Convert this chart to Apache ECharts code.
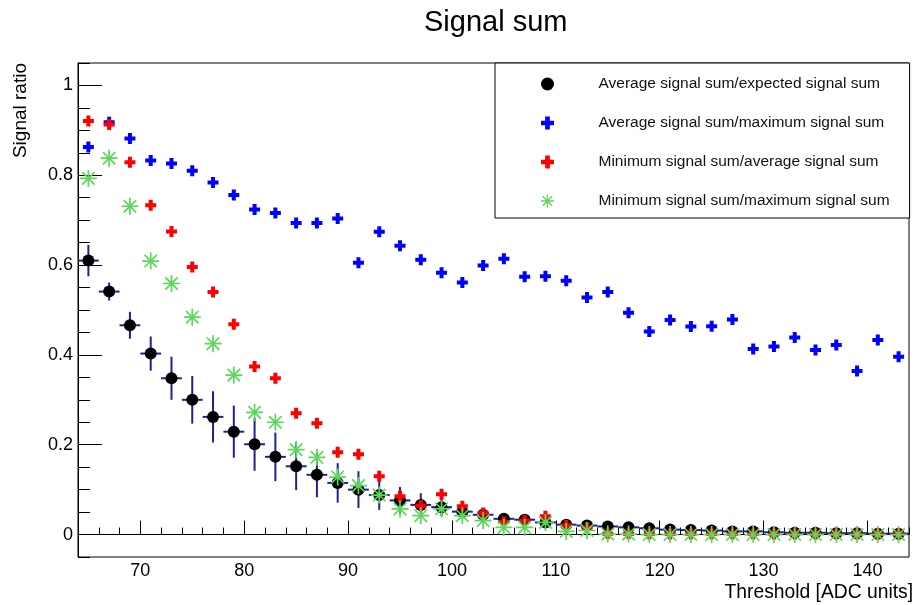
<!DOCTYPE html>
<html>
<head>
<meta charset="utf-8">
<title>Signal sum</title>
<script src="https://cdn.jsdelivr.net/npm/echarts@6/dist/echarts.min.js"></script>
<style>
    html, body { margin: 0; padding: 0; background: #fff; }
    #chart { width: 915px; height: 605px; }
</style>
</head>
<body>
<div id="chart"></div>
<script>
(function (window) {
    "use strict";

    // 阈值 (ADC units)
    var thresholds = [65, 67, 69, 71, 73, 75, 77, 79, 81, 83, 85, 87, 89, 91, 93, 95, 97, 99, 101, 103,
        105, 107, 109, 111, 113, 115, 117, 119, 121, 123, 125, 127, 129, 131, 133, 135, 137, 139, 141, 143];

    // Average signal sum/expected signal sum
    var avgExpected = [0.610, 0.541, 0.466, 0.403, 0.348, 0.300, 0.262, 0.229, 0.201, 0.173,
        0.152, 0.133, 0.115, 0.100, 0.088, 0.076, 0.066, 0.061, 0.051, 0.044,
        0.035, 0.033, 0.027, 0.022, 0.020, 0.018, 0.016, 0.014, 0.011, 0.010,
        0.009, 0.007, 0.007, 0.005, 0.004, 0.004, 0.003, 0.003, 0.002, 0.002];
    var avgExpectedErr = [0.035, 0.020, 0.030, 0.038, 0.048, 0.053, 0.057, 0.058, 0.059, 0.054,
        0.053, 0.050, 0.044, 0.041, 0.033, 0.030, 0.026, 0.020, 0.015, 0.012,
        0.012, 0.009, 0.007, 0.006, 0.005, 0.004, 0.004, 0.003, 0.003, 0.002,
        0.002, 0.002, 0.002, 0.001, 0.001, 0.001, 0.001, 0.001, 0.001, 0.001];

    // Average signal sum/maximum signal sum
    var avgMax = [0.863, 0.918, 0.882, 0.833, 0.826, 0.810, 0.784, 0.756, 0.724, 0.716,
        0.694, 0.694, 0.704, 0.605, 0.674, 0.643, 0.612, 0.583, 0.561, 0.599,
        0.614, 0.574, 0.575, 0.565, 0.528, 0.540, 0.494, 0.452, 0.478, 0.463,
        0.464, 0.479, 0.413, 0.419, 0.439, 0.411, 0.422, 0.364, 0.433, 0.396];

    // Minimum signal sum/average signal sum
    var minAvg = [0.921, 0.913, 0.829, 0.733, 0.675, 0.596, 0.540, 0.468, 0.374, 0.348,
        0.270, 0.248, 0.183, 0.179, 0.130, 0.085, 0.064, 0.090, 0.063, 0.048,
        0.028, 0.031, 0.041, 0.020, 0.015, 0.002, 0.002, 0.001, 0.001, 0.001,
        0.001, 0.001, 0.001, 0.001, 0.001, 0.001, 0.001, 0.001, 0.001, 0.001];

    // Minimum signal sum/maximum signal sum
    var minMax = [0.793, 0.838, 0.731, 0.609, 0.559, 0.484, 0.425, 0.355, 0.272, 0.250,
        0.189, 0.172, 0.128, 0.109, 0.088, 0.057, 0.042, 0.057, 0.042, 0.031,
        0.016, 0.016, 0.027, 0.007, 0.009, 0.001, 0.001, 0.000, 0.000, 0.000,
        0.000, 0.000, 0.000, 0.000, 0.000, 0.000, 0.000, 0.000, 0.000, 0.000];

    var xMajor = [70, 80, 90, 100, 110, 120, 130, 140];
    var yMajor = [0, 0.2, 0.4, 0.6, 0.8, 1];

    var names = [
        'Average signal sum/expected signal sum',
        'Average signal sum/maximum signal sum',
        'Minimum signal sum/average signal sum',
        'Minimum signal sum/maximum signal sum'
    ];

    var FONT = 'Liberation Sans';
    var plusPath = 'path://M3.5,0H7.5V3.5H11V7.5H7.5V11H3.5V7.5H0V3.5H3.5Z';
    var starPath = 'path://M0,45H100V55H0Z M45,0H55V100H45Z M10,17L17,10L90,83L83,90Z M83,10L90,17L17,90L10,83Z';
    var errColor = '#1f1f99';

    var pairs = function (ys) {
        return thresholds.map(function (x, i) { return [x, ys[i]]; });
    };

    var errData = thresholds.map(function (x, i) {
        return [x, avgExpected[i], avgExpectedErr[i]];
    });

    var chart = window.echarts.init(document.getElementById('chart'));

    var option = {
        animation: false,
        backgroundColor: '#fff',
        title: {
            text: 'Signal sum',
            left: 424,
            top: 8,
            padding: 0,
            textStyle: { fontFamily: FONT, fontSize: 29, fontWeight: 'normal', color: '#000' }
        },
        legend: {
            data: names,
            orient: 'vertical',
            left: 495,
            top: 63,
            padding: [13, 20, 9, 46],
            itemWidth: 92,
            itemHeight: 13,
            itemGap: 23,
            borderColor: '#000',
            borderWidth: 1,
            backgroundColor: '#fff',
            selectedMode: false,
            textStyle: { fontFamily: FONT, fontSize: 15.5, color: '#111', lineHeight: 14 }
        },
        grid: {
            left: 78, right: 6, top: 63, bottom: 48,
            outerBoundsMode: 'none',
            containLabel: false,
            show: true, borderColor: '#000', borderWidth: 1, backgroundColor: '#fff'
        },
        xAxis: [
            {
                type: 'value', min: 64, max: 144,
                name: 'Threshold [ADC units]',
                nameLocation: 'middle',
                nameGap: 26,
                nameMoveOverlap: false,
                nameTextStyle: {
                    fontFamily: FONT, fontSize: 19.3, color: '#000',
                    align: 'left', verticalAlign: 'top', padding: [0, 0, 0, 231]
                },
                axisLine: { show: true, lineStyle: { color: '#000', width: 1 } },
                axisTick: { show: true, inside: true, length: 14, customValues: xMajor, lineStyle: { color: '#000' } },
                axisLabel: { customValues: xMajor, margin: 5, fontFamily: FONT, fontSize: 18, color: '#000' },
                splitLine: { show: false }
            },
            {
                type: 'value', min: 64, max: 144, interval: 2, position: 'bottom',
                axisLine: { show: false },
                axisTick: { show: true, inside: true, length: 7, lineStyle: { color: '#000' } },
                axisLabel: { show: false },
                splitLine: { show: false }
            }
        ],
        yAxis: [
            {
                type: 'value', min: -0.05, max: 1.05,
                name: 'Signal ratio',
                nameLocation: 'end',
                nameGap: 0,
                nameRotate: 90,
                nameMoveOverlap: false,
                nameTextStyle: {
                    fontFamily: FONT, fontSize: 19, color: '#000',
                    align: 'right', verticalAlign: 'bottom', padding: [0, 0, 48, 0]
                },
                axisLine: { show: true, lineStyle: { color: '#000', width: 1 } },
                axisTick: { show: true, inside: true, length: 24, customValues: yMajor, lineStyle: { color: '#000' } },
                axisLabel: {
                    customValues: yMajor, margin: 5, fontFamily: FONT, fontSize: 18, color: '#000',
                    formatter: function (v) { return String(Math.round(v * 10) / 10); }
                },
                splitLine: { show: false }
            },
            {
                type: 'value', min: -0.05, max: 1.05, interval: 0.05, position: 'left',
                axisLine: { show: false },
                axisTick: { show: true, inside: true, length: 12, lineStyle: { color: '#000' } },
                axisLabel: { show: false },
                splitLine: { show: false }
            }
        ],
        series: [
            {
                // 误差棒
                name: 'errors',
                type: 'custom',
                data: errData,
                z: 2,
                renderItem: function (params, api) {
                    var x = api.value(0), y = api.value(1), e = api.value(2);
                    var lo = api.coord([x, y - e]);
                    var hi = api.coord([x, y + e]);
                    var l = api.coord([x - 1, y]);
                    var r = api.coord([x + 1, y]);
                    return {
                        type: 'group',
                        children: [
                            { type: 'line', shape: { x1: lo[0], y1: lo[1], x2: hi[0], y2: hi[1] }, style: { stroke: errColor, lineWidth: 2 } },
                            { type: 'line', shape: { x1: l[0], y1: l[1], x2: r[0], y2: r[1] }, style: { stroke: errColor, lineWidth: 2 } }
                        ]
                    };
                }
            },
            {
                name: names[0], type: 'scatter', data: pairs(avgExpected), z: 3,
                symbol: 'circle', symbolSize: 12,
                itemStyle: { color: '#000', opacity: 1 }
            },
            {
                name: names[1], type: 'scatter', data: pairs(avgMax), z: 4,
                symbol: plusPath, symbolSize: 11,
                itemStyle: { color: '#0000ff', opacity: 1 }
            },
            {
                name: names[2], type: 'scatter', data: pairs(minAvg), z: 5,
                symbol: plusPath, symbolSize: 11,
                itemStyle: { color: '#ff0000', opacity: 1 }
            },
            {
                name: names[3], type: 'scatter', data: pairs(minMax), z: 6,
                symbol: starPath, symbolSize: 17,
                itemStyle: { color: '#5cd65c', opacity: 1 }
            }
        ]
    };

    chart.setOption(option);

})(window);
</script>
</body>
</html>
